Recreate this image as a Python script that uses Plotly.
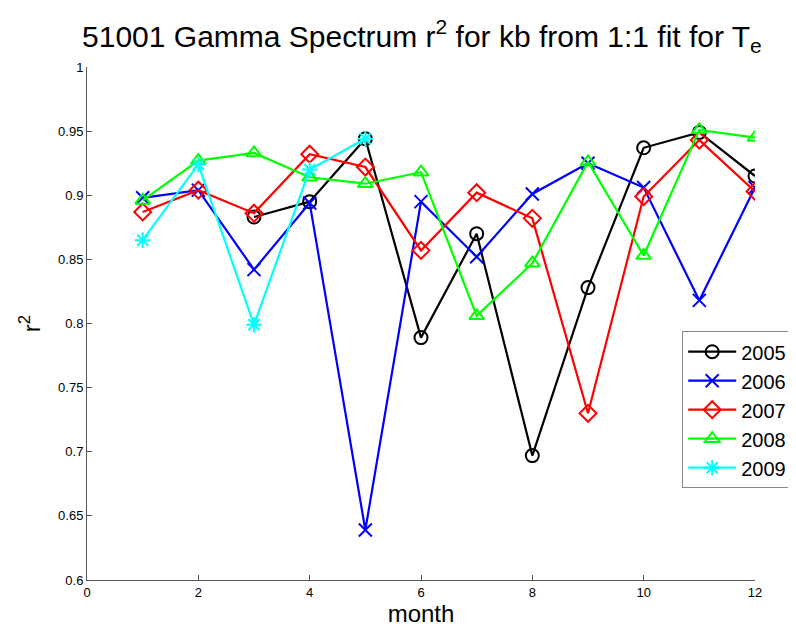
import plotly.graph_objects as go

months = list(range(1, 13))

r2_2005 = [None, None, 0.883, 0.895, 0.944, 0.789, 0.870, 0.697, 0.828, 0.937, 0.949, 0.915]
r2_2006 = [0.898, 0.904, 0.842, 0.894, 0.639, 0.895, 0.852, 0.901, 0.925, 0.906, 0.818, 0.906]
r2_2007 = [0.887, 0.904, 0.886, 0.932, 0.922, 0.857, 0.902, 0.882, 0.730, 0.899, 0.943, 0.903]
r2_2008 = [0.896, 0.927, 0.933, 0.914, 0.909, 0.918, 0.806, 0.847, 0.926, 0.853, 0.951, 0.945]
r2_2009 = [0.865, 0.924, 0.799, 0.920, 0.944, None, None, None, None, None, None, None]

series = [
    ("2005", r2_2005, "black", "circle-open"),
    ("2006", r2_2006, "blue", "x-thin-open"),
    ("2007", r2_2007, "red", "diamond-open"),
    ("2008", r2_2008, "#00ff00", "triangle-up-open"),
    ("2009", r2_2009, "cyan", "asterisk-open"),
]

fig = go.Figure()

for name, vals, color, symbol in series:
    fig.add_trace(
        go.Scatter(
            x=months,
            y=vals,
            name=name,
            mode="lines+markers",
            line=dict(color=color, width=2.2),
            marker=dict(symbol=symbol, size=13, color=color,
                        line=dict(color=color, width=2)),
            connectgaps=False
        )
    )

axis_font = dict(family="Liberation Sans, Arial", size=13, color="black")

fig.update_layout(
    width=796,
    height=633,
    margin=dict(l=79, r=47, t=59, b=61),
    paper_bgcolor="white",
    plot_bgcolor="white",
    title=dict(
        text="51001 Gamma Spectrum r<sup>2</sup> for kb from 1:1 fit for T<sub>e</sub>",
        x=0.52,
        xanchor="center",
        y=0.955,
        yanchor="middle",
        font=dict(family="Liberation Sans, Arial", size=30, color="black")
    ),
    font=dict(family="Liberation Sans, Arial", color="black"),
    legend=dict(
        x=0.891,
        y=0.485,
        xanchor="left",
        yanchor="top",
        bgcolor="white",
        bordercolor="#888888",
        borderwidth=1,
        font=dict(size=20, color="black"),
        itemwidth=48,
        tracegroupgap=0
    ),
    showlegend=True
)

fig.update_xaxes(
    range=[0, 12],
    tickvals=[0, 2, 4, 6, 8, 10, 12],
    ticks="inside",
    ticklen=5,
    tickcolor="#555555",
    showline=True,
    linecolor="#555555",
    linewidth=1,
    showgrid=False,
    zeroline=False,
    tickfont=axis_font,
    title=dict(text="month", font=dict(size=24, color="black"), standoff=2)
)

fig.update_yaxes(
    range=[0.6, 1],
    tickvals=[0.6, 0.65, 0.7, 0.75, 0.8, 0.85, 0.9, 0.95, 1],
    ticktext=["0.6", "0.65", "0.7", "0.75", "0.8", "0.85", "0.9", "0.95", "1"],
    ticks="inside",
    ticklen=5,
    tickcolor="#555555",
    showline=True,
    linecolor="#555555",
    linewidth=1,
    showgrid=False,
    zeroline=False,
    tickfont=axis_font,
    title=dict(text="r<sup>2</sup>", font=dict(size=24, color="black"), standoff=10)
)

fig.write_html("out.html")
